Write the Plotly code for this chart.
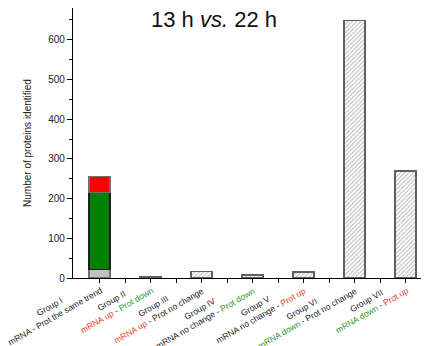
import plotly.graph_objects as go

groups = ["Group I", "Group II", "Group III", "Group IV", "Group V", "Group VI", "Group VII"]
subtitles = [
    "mRNA - Prot the same trend",
    '<span style="color:#e8412a">mRNA up</span> - <span style="color:#2a9a2a">Prot down</span>',
    '<span style="color:#e8412a">mRNA up</span> - Prot no change',
    'mRNA no change - <span style="color:#2a9a2a">Prot down</span>',
    'mRNA no change - <span style="color:#e8412a">Prot up</span>',
    '<span style="color:#2a9a2a">mRNA down</span> - Prot no change',
    '<span style="color:#2a9a2a">mRNA down</span> - <span style="color:#e8412a">Prot up</span>',
]
# Group I stacked components
g1_grey = 21
g1_green = 194
g1_red = 40
# Other groups (hatched)
other_x = [1, 2, 3, 4, 5, 6]
other_vals = [2, 16, 8, 15, 648, 269]

xpos = list(range(len(groups)))

fig = go.Figure()
W = 0.41
fig.add_trace(go.Bar(x=[0], y=[g1_grey], width=W, marker=dict(color="#c0c0c0", line=dict(color="#707070", width=1.2))))
fig.add_trace(go.Bar(x=[0], y=[g1_green], width=W, marker=dict(color="#008000", line=dict(color="#202020", width=1.2))))
fig.add_trace(go.Bar(x=[0], y=[g1_red], width=W, marker=dict(color="#ff0000", line=dict(color="#707070", width=1.2))))
fig.add_trace(go.Bar(x=other_x, y=other_vals, width=W,
                     marker=dict(color="white", line=dict(color="#606060", width=1.5),
                                 pattern=dict(shape="/", fgcolor="#777777", bgcolor="white", size=3, solidity=0.35))))

annotations = [dict(text="13 h <i>vs.</i> 22 h", xref="x", yref="y", x=2.245, y=652,
                    showarrow=False, font=dict(size=22, color="#111"))]
for i, (g, s) in enumerate(zip(groups, subtitles)):
    annotations.append(dict(text=f"{g}<br>{s}", xref="x", yref="paper", x=i, y=0,
                            xanchor="right", yanchor="top", xshift=7, yshift=5,
                            textangle=-30, align="center", showarrow=False,
                            font=dict(size=8.5, color="#222")))

fig.update_layout(
    barmode="stack",
    showlegend=False,
    width=421, height=338,
    margin=dict(l=65, r=0, t=0, b=68),
    paper_bgcolor="white", plot_bgcolor="white",
    font=dict(family="Liberation Sans, Arial, sans-serif", color="#222"),
    annotations=annotations,
)
fig.update_xaxes(range=[-0.52, 6.46], tickvals=xpos, ticktext=[""] * len(xpos),
                 automargin=False,
                 showline=True, linecolor="black", linewidth=1.2, ticks="outside", ticklen=4,
                 tickcolor="black", showgrid=False, zeroline=False,
                 minor=dict(tickvals=[x + 0.5 for x in xpos[:-1]], ticks="outside", ticklen=4, tickcolor="black"))
fig.update_yaxes(range=[0, 680], tickvals=[0, 100, 200, 300, 400, 500, 600],
                 automargin=False,
                 showline=True, linecolor="black", linewidth=1.2, ticks="outside", ticklen=5,
                 tickcolor="black", tickfont=dict(size=10), showgrid=False, zeroline=False,
                 minor=dict(dtick=50, ticks="outside", ticklen=3, tickcolor="black"),
                 title=dict(text="Number of proteins identified", font=dict(size=10), standoff=14))
fig.write_html("out.html")
